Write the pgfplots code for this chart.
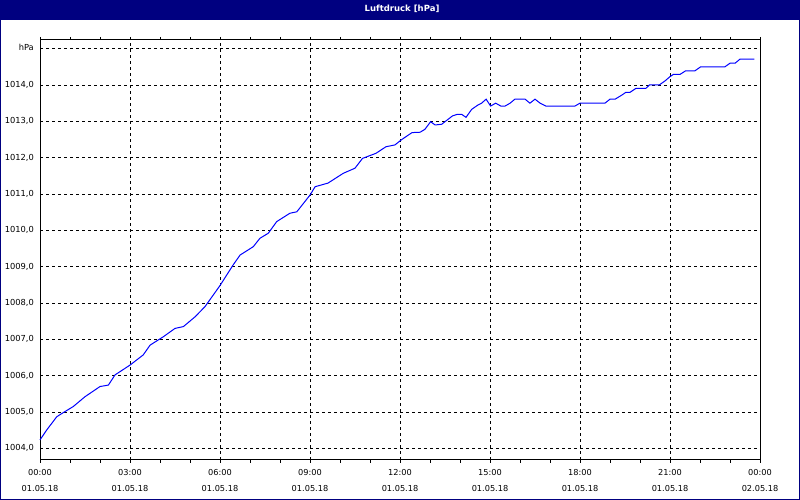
\documentclass[border=0pt]{standalone}
\usepackage{fontspec}
\setmainfont{DejaVu Sans}
\usepackage{pgfplots}
\pgfplotsset{compat=1.18}
\definecolor{framenavy}{RGB}{0,0,128}
\definecolor{curveblue}{RGB}{0,0,255}

\pgfplotstableread{
t v
0 1004.23
0.22 1004.50
0.56 1004.87
0.83 1005.01
1.11 1005.15
1.5 1005.42
2.0 1005.70
2.28 1005.74
2.5 1006.02
3.0 1006.29
3.44 1006.57
3.67 1006.84
4.11 1007.07
4.5 1007.30
4.78 1007.35
5.17 1007.62
5.5 1007.90
6.0 1008.48
6.44 1009.05
6.67 1009.32
7.11 1009.55
7.33 1009.78
7.61 1009.92
7.89 1010.24
8.33 1010.47
8.56 1010.51
8.78 1010.74
9.0 1010.97
9.17 1011.20
9.6 1011.30
10.11 1011.57
10.5 1011.71
10.75 1011.98
11.2 1012.12
11.53 1012.30
11.83 1012.35
12.06 1012.50
12.4 1012.69
12.67 1012.70
12.83 1012.78
13.02 1012.99
13.17 1012.90
13.39 1012.92
13.75 1013.15
13.9 1013.19
14.06 1013.19
14.2 1013.11
14.39 1013.33
14.6 1013.45
14.72 1013.50
14.87 1013.61
15.02 1013.42
15.19 1013.50
15.36 1013.42
15.5 1013.42
15.67 1013.50
15.83 1013.61
16.17 1013.61
16.33 1013.50
16.5 1013.61
16.67 1013.50
16.86 1013.42
17.83 1013.42
18.0 1013.50
18.83 1013.50
19.0 1013.61
19.17 1013.61
19.39 1013.72
19.53 1013.80
19.67 1013.80
19.87 1013.91
20.2 1013.91
20.31 1014.00
20.64 1014.00
20.83 1014.11
21.0 1014.23
21.11 1014.29
21.33 1014.29
21.52 1014.39
21.83 1014.39
22.02 1014.50
22.83 1014.50
23.0 1014.60
23.17 1014.60
23.33 1014.71
23.81 1014.71
}\pressure

\begin{document}
\begin{tikzpicture}[x=1bp,y=1bp]
  \path[use as bounding box] (0,0) rectangle (800,500);
  \fill[white] (0,0) rectangle (800,500);
  \fill[framenavy] (0,480) rectangle (800,500);
  \draw[framenavy, line width=1bp] (0.5,0.5) rectangle (799.5,499.5);
  \node[text=white, font=\fontsize{8.5bp}{10bp}\selectfont\bfseries] at (402,491.5) {Luftdruck [hPa]};
  \begin{axis}[
    at={(40bp,40bp)}, anchor=south west,
    width=720bp, height=420bp, scale only axis,
    xmin=0, xmax=24, ymin=1003.678, ymax=1015.239,
    axis line style={black, line width=1bp},
    grid=major,
    major grid style={black, line width=0.8bp, dash pattern=on 3bp off 3bp},
    xtick={0,3,...,24},
    xticklabels={{00:00\\01.05.18},{03:00\\01.05.18},{06:00\\01.05.18},{09:00\\01.05.18},{12:00\\01.05.18},{15:00\\01.05.18},{18:00\\01.05.18},{21:00\\01.05.18},{00:00\\02.05.18}},
    minor x tick num=2,
    tick align=outside,
    major tick length=3bp, minor tick length=3bp,
    xtick style={black, line width=0.8bp},
    ytick={1004,1005,...,1015},
    yticklabels={{1004,0},{1005,0},{1006,0},{1007,0},{1008,0},{1009,0},{1010,0},{1011,0},{1012,0},{1013,0},{1014,0},\raisebox{3.5bp}{hPa}},
    ytick style={draw=none},
    xticklabel style={align=center, font=\fontsize{8.2bp}{16bp}\selectfont, inner sep=0pt, yshift=-6bp},
    yticklabel style={font=\fontsize{8.3bp}{10bp}\selectfont, inner sep=0pt, xshift=-3bp},
    clip=false,
  ]
    \addplot[curveblue, line width=1bp, no marks] table[x=t, y=v] {\pressure};
  \end{axis}
\end{tikzpicture}
\end{document}
